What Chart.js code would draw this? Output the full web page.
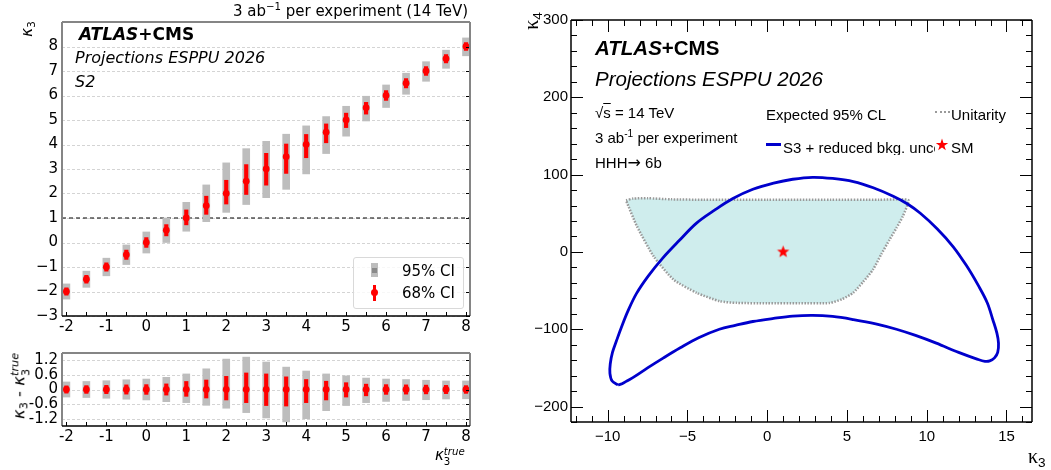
<!DOCTYPE html>
<html><head><meta charset="utf-8">
<script src="https://cdn.jsdelivr.net/npm/chart.js@4.4.1/dist/chart.umd.min.js"></script>
<style>
body{margin:0;width:1051px;height:470px;position:relative;overflow:hidden;background:#fff;}
canvas{position:absolute;}
.t{position:absolute;white-space:nowrap;color:#000;line-height:1;}
.dj{font-family:'DejaVu Sans',sans-serif;}
.ls{font-family:'Liberation Sans',Arial,sans-serif;}
.rot{transform:translate(-50%,-50%) rotate(-90deg);}
sub,sup{font-size:0.68em;line-height:0;}
sub{vertical-align:-0.3em;}
sup{vertical-align:0.55em;}
.ss{display:inline-block;font-size:0.68em;line-height:0.95;vertical-align:-0.45em;}
.ss span{display:block;}
.box{position:absolute;}
</style></head><body>
<canvas id="cTop" width="480" height="340" style="left:0;top:0;width:480px;height:340px"></canvas>
<canvas id="cRes" width="480" height="130" style="left:0;top:340px;width:480px;height:130px"></canvas>
<canvas id="cRight" width="551" height="470" style="left:500px;top:0;width:551px;height:470px"></canvas>

<!-- left panel texts -->
<div class="t dj" style="right:583px;top:4px;font-size:15px">3 ab<sup>−1</sup> per experiment (14 TeV)</div>
<div class="t dj" style="left:79px;top:26px;font-size:17px;font-weight:bold"><i>ATLAS</i>+CMS</div>
<div class="t dj" style="left:75px;top:50px;font-size:16px;font-style:italic">Projections ESPPU 2026</div>
<div class="t dj" style="left:75px;top:74px;font-size:16px;font-style:italic">S2</div>
<div class="t dj rot" style="left:27px;top:29px;font-size:15px"><i>κ</i><sub>3</sub></div>
<div class="t dj rot" style="left:21px;top:386px;font-size:16.5px"><i>κ</i><sub>3</sub> - <i>κ</i><span class="ss"><span><i>true</i></span><span>3</span></span></div>
<div class="t dj" style="left:435px;top:447px;font-size:15px"><i>κ</i><span class="ss"><span><i>true</i></span><span>3</span></span></div>

<!-- left legend -->
<div class="box" style="left:353px;top:257px;width:109px;height:50px;border:1px solid #d9d9d9;border-radius:3px;background:rgba(255,255,255,0.8)"></div>
<div class="box" style="left:371px;top:263px;width:7px;height:14px;background:#bdbdbd"></div>
<div class="box" style="left:372px;top:267.5px;width:5px;height:5px;background:#8a8a8a"></div>
<div class="box" style="left:372.8px;top:284.5px;width:3.4px;height:16px;background:#ff0000"></div>
<div class="box" style="left:371px;top:289px;width:7px;height:7px;border-radius:50%;background:#ff0000"></div>
<div class="t dj" style="left:402px;top:263.5px;font-size:15px">95% CI</div>
<div class="t dj" style="left:402px;top:285.5px;font-size:15px">68% CI</div>

<!-- right panel texts -->
<div class="t rot" style="left:531px;top:21px;font-family:'Liberation Serif',serif;font-size:20px">κ<sub style="font-family:'Liberation Sans'">4</sub></div>
<div class="t" style="left:1028px;top:446px;font-family:'Liberation Serif',serif;font-size:20px">κ<sub style="font-family:'Liberation Sans'">3</sub></div>
<div class="t ls" style="left:595px;top:38px;font-size:20.5px;font-weight:bold"><i>ATLAS</i>+CMS</div>
<div class="t ls" style="left:595px;top:68.5px;font-size:20.5px;font-style:italic">Projections ESPPU 2026</div>
<div class="t ls" style="left:595px;top:104.5px;font-size:15px">√<span style="text-decoration:overline">s</span> = 14 TeV</div>
<div class="t ls" style="left:595px;top:130px;font-size:15px">3 ab<sup>-1</sup> per experiment</div>
<div class="t ls" style="left:595px;top:154.5px;font-size:15px">HHH<span style="font-family:'DejaVu Sans';font-size:16px">→</span> 6b</div>
<div class="t ls" style="left:766px;top:106.5px;font-size:15px">Expected 95% CL</div>
<div class="box" style="left:935px;top:111px;width:15px;height:0;border-top:2.5px dotted #9a9a9a"></div>
<div class="t ls" style="left:951px;top:106.5px;font-size:15px">Unitarity</div>
<div class="box" style="left:766px;top:143px;width:15px;height:2.8px;background:#0000cc"></div>
<div class="t ls" style="left:783px;top:139.8px;font-size:15px;width:152px;overflow:hidden">S3 + reduced bkg. uncertainty</div>
<svg class="box" style="left:935px;top:138px" width="14" height="14" viewBox="-7 -7 14 14"><polygon fill="#ff0000" points="0,-6.5 1.5,-2 6.2,-2 2.4,0.8 3.8,5.3 0,2.5 -3.8,5.3 -2.4,0.8 -6.2,-2 -1.5,-2"/></svg>
<div class="t ls" style="left:951px;top:139.8px;font-size:15px">SM</div>

<script>
// ---------------- data: left panels ----------------
const K3_TRUE = [-2,-1.5,-1,-0.5,0,0.5,1,1.5,2,2.5,3,3.5,4,4.5,5,5.5,6,6.5,7,7.5,8];
const K3_FIT  = [-2,-1.5,-1,-0.5,0,0.5,1,1.5,2,2.5,3,3.5,4,4.5,5,5.5,6,6.5,7,7.5,8];
const CI95_UP = [0.31,0.33,0.36,0.40,0.43,0.50,0.64,0.85,1.25,1.33,1.13,0.92,0.76,0.64,0.56,0.47,0.43,0.41,0.38,0.35,0.35];
const CI95_DN = [0.31,0.33,0.36,0.40,0.43,0.50,0.54,0.65,0.77,0.95,1.17,1.33,1.20,0.87,0.66,0.54,0.49,0.45,0.42,0.39,0.38];
const CI68_UP = [0.15,0.16,0.17,0.19,0.20,0.23,0.33,0.39,0.54,0.68,0.64,0.52,0.41,0.34,0.28,0.22,0.20,0.19,0.18,0.17,0.16];
const CI68_DN = [0.15,0.16,0.17,0.19,0.20,0.23,0.28,0.35,0.43,0.54,0.66,0.68,0.54,0.43,0.31,0.26,0.20,0.19,0.18,0.17,0.16];
const SM_KAPPA3 = 1;
const X_TICKS_L = [-2,-1,0,1,2,3,4,5,6,7,8];
const Y_TICKS_TOP = [-3,-2,-1,0,1,2,3,4,5,6,7,8];
const Y_TICKS_RES = [-1.2,-0.6,0,0.6,1.2];

// ---------------- data: right panel ----------------
const CONTOUR_K3 = [-9.35,-9.72,-9.86,-9.84,-9.7,-9.45,-9.15,-8.72,-8.2,-7.45,-6.55,-5.5,-4.45,-3.3,-2.15,-0.9,0.4,1.6,2.85,4.1,5.4,6.65,7.9,8.8,9.6,10.65,11.65,12.5,13.25,13.8,14.15,14.4,14.5,14.45,14.25,13.95,13.65,13.2,12.0,10.6,9.3,8.1,6.8,5.4,4.1,2.85,1.6,0.4,-0.9,-2.0,-3.0,-4.3,-5.45,-6.5,-7.5,-8.3,-8.8,-9.1,-9.35];
const CONTOUR_K4 = [-172,-167,-157,-145,-130,-115,-98,-76,-54,-31,-8,15,37,54,69,81,89,94,96.5,95,91,83,72,62,50,30,7,-18,-44,-66,-88,-105,-118,-130,-137,-141,-141.5,-139,-130,-118,-108,-100,-93,-87.5,-83.5,-82,-83,-86,-90,-95,-100,-111,-124,-137,-150,-161,-167,-170.5,-172];
const UNIT_K3 = [-8.85,-8.4,-7.5,-6,-4,0,4,7,8.3,8.86,8.5,8.1,7.67,7.15,6.63,6.0,5.38,4.7,3.92,2,0,-1.91,-2.96,-4.41,-5.87,-7.12,-8.16,-8.85];
const UNIT_K4 = [66.7,69,69.5,68,67.5,67.5,67.5,67.5,68,66.7,46,31,15.9,-3,-22.9,-39,-53,-61,-66,-66.5,-66.5,-65.9,-63.8,-53,-35.8,-5.7,33,66.7];
const SM_K3 = 1, SM_K4 = 0;
const X_TICKS_R = [-10,-5,0,5,10,15];
const Y_TICKS_R = [-200,-100,0,100,200,300];

// ---------------- helpers ----------------
const RED = '#ff0000', GRAY = '#bdbdbd';
function minusFmt(v){ return v < 0 ? '\u2212' + Math.abs(v) : String(v); }
function setTicks(arr){ return s => { s.ticks = arr.map(v => ({value: v})); }; }

function makeDeco(cfg){
  return {
    id: 'deco',
    beforeDatasetsDraw(chart){
      if (!cfg.gridY) return;
      const {ctx, chartArea: a, scales: {y}} = chart;
      ctx.save();
      ctx.strokeStyle = cfg.gridColor; ctx.lineWidth = 1; ctx.setLineDash(cfg.gridDash);
      cfg.gridY.forEach(v => {
        const py = Math.round(y.getPixelForValue(v)) + 0.5;
        ctx.beginPath(); ctx.moveTo(a.left, py); ctx.lineTo(a.right, py); ctx.stroke();
      });
      ctx.restore();
    },
    afterDatasetsDraw(chart){
      const {ctx, chartArea: a, scales: {x, y}} = chart;
      ctx.save();
      (cfg.ticks || []).forEach(t => {
        const horiz = (t.side === 'bottom' || t.side === 'top');
        const sc = horiz ? x : y;
        let vals = t.values;
        if (!vals) {
          vals = [];
          const start = Math.ceil(sc.min / t.step - 1e-9);
          const end = Math.floor(sc.max / t.step + 1e-9);
          for (let k = start; k <= end; k++) vals.push(k * t.step);
        }
        ctx.strokeStyle = t.color; ctx.lineWidth = t.width;
        vals.forEach(v => {
          const p = Math.round(sc.getPixelForValue(v)) + 0.5;
          ctx.beginPath();
          if (t.side === 'bottom') { ctx.moveTo(p, a.bottom); ctx.lineTo(p, a.bottom - t.len); }
          else if (t.side === 'top') { ctx.moveTo(p, a.top); ctx.lineTo(p, a.top + t.len); }
          else if (t.side === 'left') { ctx.moveTo(a.left, p); ctx.lineTo(a.left + t.len, p); }
          else { ctx.moveTo(a.right, p); ctx.lineTo(a.right - t.len, p); }
          ctx.stroke();
        });
      });
      (cfg.frame || []).forEach(f => {
        ctx.strokeStyle = f.color; ctx.lineWidth = f.width; ctx.setLineDash([]);
        ctx.beginPath();
        if (f.side === 'left') { ctx.moveTo(a.left, a.top); ctx.lineTo(a.left, a.bottom); }
        if (f.side === 'right') { ctx.moveTo(a.right, a.top); ctx.lineTo(a.right, a.bottom); }
        if (f.side === 'top') { ctx.moveTo(a.left, a.top); ctx.lineTo(a.right, a.top); }
        if (f.side === 'bottom') { ctx.moveTo(a.left, a.bottom); ctx.lineTo(a.right, a.bottom); }
        ctx.stroke();
      });
      ctx.restore();
    }
  };
}

const FONT_L = {family: 'DejaVu Sans', size: 15};
const FONT_R = {family: 'Liberation Sans', size: 15};
const baseOpts = {responsive: false, animation: false, events: [],
  plugins: {legend: {display: false}, tooltip: {enabled: false}, title: {display: false}}};
const LEFT_FRAME = [
  {side: 'left', color: '#858585', width: 2},
  {side: 'top', color: '#858585', width: 2},
  {side: 'right', color: '#858585', width: 2},
  {side: 'bottom', color: '#000', width: 1.5}
];

// ---------------- top-left chart ----------------
const XL_MIN = -2.11, XL_MAX = 8.1;
new Chart(document.getElementById('cTop'), {
  type: 'bar',
  data: {datasets: [
    {type: 'line', data: [{x: XL_MIN, y: SM_KAPPA3}, {x: XL_MAX, y: SM_KAPPA3}],
     borderColor: '#000', borderWidth: 1, borderDash: [4, 3], pointRadius: 0, fill: false, order: 10},
    {type: 'bar', data: K3_TRUE.map((t, i) => ({x: t, y: [K3_FIT[i] - CI95_DN[i], K3_FIT[i] + CI95_UP[i]]})),
     backgroundColor: GRAY, borderWidth: 0, barThickness: 7, grouped: false, order: 5},
    {type: 'bar', data: K3_TRUE.map((t, i) => ({x: t, y: [K3_FIT[i] - CI68_DN[i], K3_FIT[i] + CI68_UP[i]]})),
     backgroundColor: RED, borderWidth: 0, barThickness: 3.5, grouped: false, order: 4},
    {type: 'scatter', data: K3_TRUE.map((t, i) => ({x: t, y: K3_FIT[i]})),
     pointRadius: 3.4, backgroundColor: RED, borderWidth: 0, order: 1}
  ]},
  options: Object.assign({}, baseOpts, {
    layout: {padding: {left: 0, top: 22, right: 10, bottom: 0}},
    scales: {
      x: {type: 'linear', min: XL_MIN, max: XL_MAX, offset: false,
          grid: {display: false, drawTicks: false}, border: {display: false},
          afterBuildTicks: setTicks(X_TICKS_L), afterFit: s => { s.height = 24; },
          ticks: {font: FONT_L, color: '#000', padding: 2, maxRotation: 0, autoSkip: false, callback: v => String(v)}},
      y: {type: 'linear', min: -3, max: 9,
          grid: {display: false, drawTicks: false}, border: {display: false},
          afterBuildTicks: setTicks(Y_TICKS_TOP), afterFit: s => { s.width = 62; },
          ticks: {font: FONT_L, color: '#000', padding: 4, autoSkip: false, callback: v => minusFmt(v)}}
    }
  }),
  plugins: [makeDeco({
    gridY: Y_TICKS_TOP, gridColor: '#d4d4d4', gridDash: [3, 2],
    ticks: [{side: 'bottom', step: 0.5, len: 4, color: '#000', width: 1},
            {side: 'right', values: Y_TICKS_TOP, len: 4, color: '#000', width: 1}],
    frame: LEFT_FRAME
  })]
});

// ---------------- bottom-left (residual) chart ----------------
new Chart(document.getElementById('cRes'), {
  type: 'bar',
  data: {datasets: [
    {type: 'bar', data: K3_TRUE.map((t, i) => ({x: t, y: [K3_FIT[i] - t - CI95_DN[i], K3_FIT[i] - t + CI95_UP[i]]})),
     backgroundColor: GRAY, borderWidth: 0, barThickness: 7, grouped: false, order: 5},
    {type: 'bar', data: K3_TRUE.map((t, i) => ({x: t, y: [K3_FIT[i] - t - CI68_DN[i], K3_FIT[i] - t + CI68_UP[i]]})),
     backgroundColor: RED, borderWidth: 0, barThickness: 3.5, grouped: false, order: 4},
    {type: 'scatter', data: K3_TRUE.map((t, i) => ({x: t, y: K3_FIT[i] - t})),
     pointRadius: 3.4, backgroundColor: RED, borderWidth: 0, order: 1}
  ]},
  options: Object.assign({}, baseOpts, {
    layout: {padding: {left: 0, top: 12, right: 10, bottom: 0}},
    scales: {
      x: {type: 'linear', min: XL_MIN, max: XL_MAX, offset: false,
          grid: {display: false, drawTicks: false}, border: {display: false},
          afterBuildTicks: setTicks(X_TICKS_L), afterFit: s => { s.height = 44; },
          ticks: {font: FONT_L, color: '#000', padding: 2, maxRotation: 0, autoSkip: false, callback: v => String(v)}},
      y: {type: 'linear', min: -1.5, max: 1.5,
          grid: {display: false, drawTicks: false}, border: {display: false},
          afterBuildTicks: setTicks(Y_TICKS_RES), afterFit: s => { s.width = 62; },
          ticks: {font: FONT_L, color: '#000', padding: 4, autoSkip: false, callback: v => String(v)}}
    }
  }),
  plugins: [makeDeco({
    gridY: Y_TICKS_RES, gridColor: '#d4d4d4', gridDash: [3, 2],
    ticks: [{side: 'bottom', step: 0.5, len: 4, color: '#000', width: 1},
            {side: 'right', values: Y_TICKS_RES, len: 4, color: '#000', width: 1}],
    frame: LEFT_FRAME
  })]
});

// ---------------- right chart ----------------
function makeStar(r, color){
  const s = Math.ceil(r * 2 + 2);
  const c = document.createElement('canvas'); c.width = s; c.height = s;
  const g = c.getContext('2d'); g.fillStyle = color; g.beginPath();
  for (let i = 0; i < 10; i++) {
    const ang = -Math.PI / 2 + i * Math.PI / 5;
    const rr = i % 2 === 0 ? r : r * 0.42;
    g.lineTo(s / 2 + rr * Math.cos(ang), s / 2 + rr * Math.sin(ang));
  }
  g.closePath(); g.fill();
  return c;
}
const STAR = makeStar(6.5, RED);

new Chart(document.getElementById('cRight'), {
  type: 'scatter',
  data: {datasets: [
    {type: 'line', data: UNIT_K3.map((v, i) => ({x: v, y: UNIT_K4[i]})), fill: 'shape',
     backgroundColor: '#cfeded', borderColor: '#9a9a9a', borderWidth: 2.5, borderDash: [1.5, 1.5],
     pointRadius: 0, tension: 0.2, order: 3},
    {type: 'line', data: CONTOUR_K3.map((v, i) => ({x: v, y: CONTOUR_K4[i]})), fill: false,
     borderColor: '#0000cc', borderWidth: 2.8, pointRadius: 0, tension: 0.35, order: 2},
    {type: 'scatter', data: [{x: SM_K3, y: SM_K4}], pointStyle: STAR, pointRadius: 6, order: 1}
  ]},
  options: Object.assign({}, baseOpts, {
    layout: {padding: {left: 0, top: 20, right: 19, bottom: 0}},
    scales: {
      x: {type: 'linear', min: -12.3, max: 16.6,
          grid: {display: false, drawTicks: false}, border: {display: false},
          afterBuildTicks: setTicks(X_TICKS_R), afterFit: s => { s.height = 48; },
          ticks: {font: FONT_R, color: '#000', padding: 6, maxRotation: 0, autoSkip: false, callback: v => minusFmt(v)}},
      y: {type: 'linear', min: -220, max: 300,
          grid: {display: false, drawTicks: false}, border: {display: false},
          afterBuildTicks: setTicks(Y_TICKS_R), afterFit: s => { s.width = 71; },
          ticks: {font: FONT_R, color: '#000', padding: 3, autoSkip: false, callback: v => minusFmt(v)}}
    }
  }),
  plugins: [makeDeco({
    ticks: [{side: 'bottom', step: 1, len: 6, color: '#000', width: 1},
            {side: 'bottom', step: 5, len: 12, color: '#000', width: 1},
            {side: 'top', step: 1, len: 6, color: '#000', width: 1},
            {side: 'top', step: 5, len: 12, color: '#000', width: 1},
            {side: 'left', step: 20, len: 6, color: '#000', width: 1},
            {side: 'left', step: 100, len: 12, color: '#000', width: 1},
            {side: 'right', step: 20, len: 6, color: '#000', width: 1},
            {side: 'right', step: 100, len: 12, color: '#000', width: 1}],
    frame: [{side: 'left', color: '#000', width: 1.5}, {side: 'right', color: '#000', width: 1.5},
            {side: 'top', color: '#000', width: 1.5}, {side: 'bottom', color: '#000', width: 1.5}]
  })]
});
</script>
</body></html>
